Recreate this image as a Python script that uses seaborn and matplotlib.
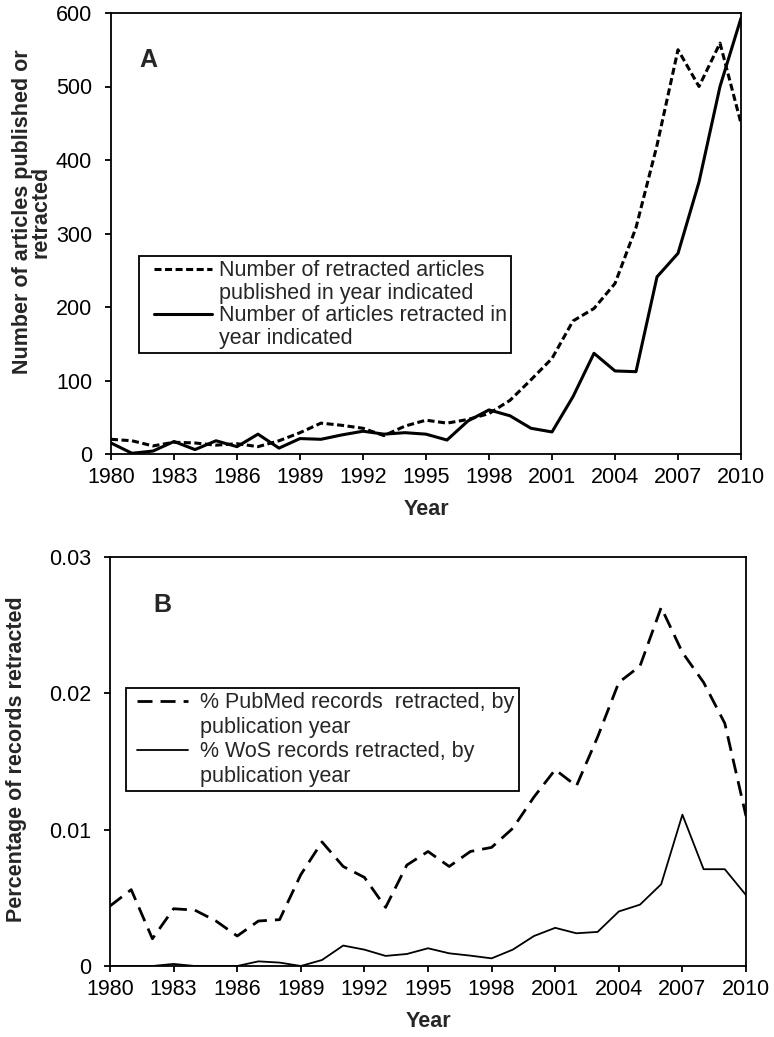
import matplotlib
matplotlib.use("Agg")
import matplotlib.pyplot as plt
from matplotlib.lines import Line2D
from matplotlib.legend_handler import HandlerLine2D
import seaborn as sns
import pandas as pd

years = list(range(1980, 2011))

published_retracted = [20, 18, 11, 16, 15, 12, 14, 10, 18, 29, 42, 39, 35, 25, 38, 46,
                       42, 47, 55, 73, 101, 130, 181, 198, 232, 308, 420, 550, 500, 559, 450]
retracted_in_year = [15, 1, 4, 17, 6, 18, 10, 27, 8, 21, 20, 26, 31, 27, 29, 27,
                     19, 45, 60, 52, 35, 30, 78, 137, 113, 112, 241, 273, 370, 500, 593]

pubmed_pct = [0.0044, 0.0056, 0.0020, 0.0042, 0.0041, 0.0033, 0.0022, 0.0033, 0.0034, 0.0067,
              0.0091, 0.0073, 0.0065, 0.0043, 0.0074, 0.0084, 0.0073, 0.0084, 0.0087, 0.0101,
              0.0124, 0.0144, 0.0132, 0.0168, 0.0208, 0.0220, 0.0263, 0.0230, 0.0208, 0.0178, 0.0110]
wos_pct = [0.0, 0.0, 0.0, 0.00015, 0.0, 0.0, 0.0, 0.00034, 0.00025, 0.0,
           0.00044, 0.0015, 0.0012, 0.00074, 0.00088, 0.0013, 0.00093, 0.00076, 0.00056, 0.0012,
           0.0022, 0.0028, 0.0024, 0.0025, 0.0040, 0.0045, 0.0060, 0.0111, 0.0071, 0.0071, 0.0052]

labels_a = ["Number of retracted articles", "published in year indicated",
            "Number of articles retracted in", "year indicated"]
labels_b = ["% PubMed records  retracted, by", "publication year",
            "% WoS records retracted, by", "publication year"]

year_ticks = list(range(1980, 2011, 3))
yticks_a = [0, 100, 200, 300, 400, 500, 600]
yticks_b = [0, 0.01, 0.02, 0.03]
yticklabels_b = ["0", "0.01", "0.02", "0.03"]

FS = 15.5

sns.set_style("ticks")
plt.rcParams['font.family'] = ['Liberation Sans', 'DejaVu Sans']
plt.rcParams['axes.linewidth'] = 1.3
plt.rcParams['xtick.major.width'] = 1.3
plt.rcParams['ytick.major.width'] = 1.3
plt.rcParams['xtick.major.size'] = 4.5
plt.rcParams['ytick.major.size'] = 4.5
plt.rcParams['xtick.direction'] = 'out'
plt.rcParams['ytick.direction'] = 'out'
plt.rcParams['xtick.color'] = 'black'
plt.rcParams['ytick.color'] = 'black'
plt.rcParams['axes.edgecolor'] = 'black'

W, H = 774, 1037
fig = plt.figure(figsize=(W / 100, H / 100), dpi=100)


def axes_px(left, top, right, bottom):
    return fig.add_axes([left / W, 1 - bottom / H, (right - left) / W, (bottom - top) / H])


ax_a = axes_px(111, 13, 741, 454)
ax_b = axes_px(110, 557, 746, 966)

df_a = pd.DataFrame({"year": years, "pub": published_retracted, "ret": retracted_in_year})
df_b = pd.DataFrame({"year": years, "pubmed": pubmed_pct, "wos": wos_pct})

# Panel A
sns.lineplot(data=df_a, x="year", y="pub", ax=ax_a, color="black", lw=2.2)
line_pub = ax_a.lines[-1]
line_pub.set_dashes((2.3, 1.15))
sns.lineplot(data=df_a, x="year", y="ret", ax=ax_a, color="black", lw=2.2)
line_ret = ax_a.lines[-1]

# Panel B
sns.lineplot(data=df_b, x="year", y="pubmed", ax=ax_b, color="black", lw=2.0)
line_pm = ax_b.lines[-1]
line_pm.set_dashes((5.4, 2.9))
sns.lineplot(data=df_b, x="year", y="wos", ax=ax_b, color="black", lw=1.3)
line_wos = ax_b.lines[-1]

for ax in (ax_a, ax_b):
    ax.set_xlim(1980, 2010)
    ax.set_xticks(year_ticks)
    ax.set_xticklabels([str(y) for y in year_ticks])
    ax.tick_params(axis='x', labelsize=FS, pad=5)
    ax.tick_params(axis='y', labelsize=FS, pad=9)
    ax.set_xlabel("Year", fontsize=FS, fontweight='bold', labelpad=8)
    ax.set_ylabel("")
    for s in ax.spines.values():
        s.set_visible(True)
        s.set_color("black")
    ax.tick_params(top=False, right=False)

ax_a.set_ylim(0, 600)
ax_a.set_yticks(yticks_a)
ax_a.set_yticklabels([str(v) for v in yticks_a])

ax_b.set_ylim(0, 0.03)
ax_b.set_yticks(yticks_b)
ax_b.set_yticklabels(yticklabels_b)

fig.text(32 / W, 1 - 212 / H, "Number of articles published or\nretracted", rotation=90,
         ha='center', va='center', fontsize=FS, fontweight='bold', linespacing=0.85,
         multialignment='center')
fig.text(17 / W, 1 - 759 / H, "Percentage of records retracted", rotation=90,
         ha='center', va='center', fontsize=FS, fontweight='bold')

ax_a.text(0.059, 0.893, "A", transform=ax_a.transAxes, fontsize=18, fontweight='bold',
          ha='center', va='center')
ax_b.text(0.082, 0.883, "B", transform=ax_b.transAxes, fontsize=18, fontweight='bold',
          ha='center', va='center')


class PaddedLine(HandlerLine2D):
    def __init__(self, lead_px, **kw):
        super().__init__(**kw)
        self.lead_px = lead_px

    def create_artists(self, legend, orig_handle, xdescent, ydescent, width, height,
                       fontsize, trans):
        return super().create_artists(legend, orig_handle, xdescent - self.lead_px, ydescent,
                                      width - self.lead_px, height, fontsize, trans)


blank = Line2D([], [], color='none')


def make_legend(ax, handles, labels, anchor, hl, lead, tpad, lsp):
    hmap = {h: PaddedLine(lead) for h in handles[::2]}
    leg = ax.legend(handles=handles, labels=labels, loc='upper left', bbox_to_anchor=anchor,
                    fontsize=FS, frameon=True, fancybox=False, edgecolor='black',
                    framealpha=1, handlelength=hl, handletextpad=tpad, labelspacing=lsp,
                    borderpad=0.2, borderaxespad=0, handler_map=hmap)
    leg.get_frame().set_linewidth(1.3)
    return leg


make_legend(ax_a, [line_pub, blank, line_ret, blank], labels_a, (0.044, 0.449), 3.2, 8, 0.33, 0.07)
make_legend(ax_b, [line_pm, blank, line_wos, blank], labels_b, (0.025, 0.680), 2.68, 5, 0.56, 0.16)

fig.savefig("out.png", dpi=100)
